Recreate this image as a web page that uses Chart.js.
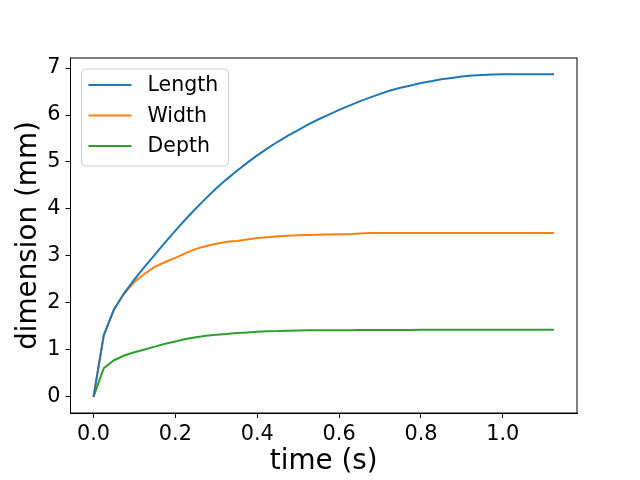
<!DOCTYPE html>
<html>
<head>
<meta charset="utf-8">
<script src="https://cdn.jsdelivr.net/npm/chart.js@4.4.0/dist/chart.umd.min.js"></script>
<style>
  html, body { margin: 0; padding: 0; background: #fff; }
  canvas { display: block; }
</style>
</head>
<body>
<canvas id="canvas" width="640" height="480"></canvas>
<script>
var times = [0, 0.025, 0.05, 0.075, 0.1, 0.125, 0.15, 0.175, 0.2, 0.225,
  0.25, 0.275, 0.3, 0.325, 0.35, 0.375, 0.4, 0.425, 0.45, 0.475,
  0.5, 0.525, 0.55, 0.575, 0.6, 0.625, 0.65, 0.675, 0.7, 0.725,
  0.75, 0.775, 0.8, 0.825, 0.85, 0.875, 0.9, 0.925, 0.95, 0.975,
  1.0, 1.025, 1.05, 1.075, 1.1, 1.125];

var lengthMm = [0, 1.31, 1.86, 2.21, 2.50, 2.77, 3.03, 3.29, 3.54, 3.78,
  4.01, 4.23, 4.44, 4.63, 4.81, 4.98, 5.14, 5.29, 5.43, 5.56,
  5.68, 5.80, 5.91, 6.01, 6.11, 6.20, 6.29, 6.37, 6.45, 6.52,
  6.58, 6.63, 6.68, 6.72, 6.76, 6.79, 6.82, 6.84, 6.85, 6.86,
  6.87, 6.87, 6.87, 6.87, 6.87, 6.87];

var widthMm = [0, 1.31, 1.86, 2.20, 2.45, 2.62, 2.77, 2.87, 2.96, 3.06,
  3.15, 3.21, 3.26, 3.30, 3.32, 3.35, 3.38, 3.40, 3.42, 3.43,
  3.44, 3.445, 3.45, 3.455, 3.46, 3.46, 3.48, 3.49, 3.49, 3.49,
  3.49, 3.49, 3.49, 3.49, 3.49, 3.49, 3.49, 3.49, 3.49, 3.49,
  3.49, 3.49, 3.49, 3.49, 3.49, 3.49];

var depthMm = [0, 0.61, 0.78, 0.88, 0.95, 1.01, 1.07, 1.13, 1.18, 1.23,
  1.27, 1.30, 1.32, 1.34, 1.36, 1.37, 1.385, 1.395, 1.40, 1.41,
  1.415, 1.42, 1.42, 1.42, 1.42, 1.42, 1.425, 1.425, 1.425, 1.425,
  1.425, 1.425, 1.43, 1.43, 1.43, 1.43, 1.43, 1.43, 1.43, 1.43,
  1.43, 1.43, 1.43, 1.43, 1.43, 1.43];

var seriesNames = ['Length', 'Width', 'Depth'];
var seriesColors = ['#1f77b4', '#ff7f0e', '#2ca02c'];
var xTicks = [0, 0.2, 0.4, 0.6, 0.8, 1.0];
var yTicks = [0, 1, 2, 3, 4, 5, 6, 7];

var FONT = "'DejaVu Sans', sans-serif";

function toPoints(arr) {
  return times.map(function(t, i) { return { x: t, y: arr[i] }; });
}

var allSeries = [lengthMm, widthMm, depthMm];
var datasets = allSeries.map(function(arr, i) {
  return {
    label: seriesNames[i],
    data: toPoints(arr),
    borderColor: seriesColors[i],
    backgroundColor: 'transparent',
    borderWidth: 2,
    pointRadius: 0,
    tension: 0
  };
});

// frame around the plot + legend box inside the axes
var framePlugin = {
  id: 'frame',
  afterDraw: function(chart) {
    var ctx = chart.ctx;
    var a = chart.chartArea;
    ctx.save();
    ctx.strokeStyle = '#000';
    ctx.lineWidth = 1;
    ctx.strokeRect(a.left, a.top, a.right - a.left, a.bottom - a.top);

    var bx = a.left + 11, by = a.top + 11, bw = 147, bh = 97;
    ctx.beginPath();
    ctx.roundRect(bx, by, bw, bh, 4);
    ctx.fillStyle = 'rgba(255,255,255,0.8)';
    ctx.fill();
    ctx.strokeStyle = '#cccccc';
    ctx.stroke();

    ctx.font = '20.5px ' + FONT;
    ctx.textBaseline = 'middle';
    ctx.textAlign = 'left';
    chart.data.datasets.forEach(function(ds, i) {
      var y = by + 16 + i * 30.5;
      ctx.beginPath();
      ctx.strokeStyle = ds.borderColor;
      ctx.lineWidth = 2;
      ctx.moveTo(bx + 7, y);
      ctx.lineTo(bx + 50, y);
      ctx.stroke();
      ctx.fillStyle = '#000';
      ctx.fillText(ds.label, bx + 66, y + 1);
    });
    ctx.restore();
  }
};

var ctx = document.getElementById('canvas').getContext('2d');
var myChart = new Chart(ctx, {
  type: 'line',
  data: { datasets: datasets },
  options: {
    responsive: false,
    animation: false,
    layout: { padding: { top: 58, right: 63, left: 0, bottom: 0 } },
    plugins: { legend: { display: false }, tooltip: { enabled: false } },
    scales: {
      x: {
        type: 'linear',
        min: -0.05625,
        max: 1.18125,
        afterBuildTicks: function(s) { s.ticks = xTicks.map(function(v) { return { value: v }; }); },
        afterFit: function(s) { s.height = 67; },
        ticks: {
          color: '#000',
          padding: 4,
          maxRotation: 0,
          font: { family: FONT, size: 20.8 },
          callback: function(v) { return Number(v).toFixed(1); }
        },
        grid: { drawOnChartArea: false, drawTicks: true, tickLength: 5, color: '#000' },
        border: { display: true, color: '#000', width: 1 },
        title: {
          display: true,
          text: 'time (s)',
          color: '#000',
          font: { family: FONT, size: 27.8 },
          padding: { top: 0, bottom: 2 }
        }
      },
      y: {
        type: 'linear',
        min: -0.3435,
        max: 7.2135,
        afterBuildTicks: function(s) { s.ticks = yTicks.map(function(v) { return { value: v }; }); },
        afterFit: function(s) { s.width = 70.5; },
        ticks: {
          color: '#000',
          padding: 5,
          font: { family: FONT, size: 20.8 }
        },
        grid: { drawOnChartArea: false, drawTicks: true, tickLength: 5, color: '#000' },
        border: { display: true, color: '#000', width: 1 },
        title: {
          display: true,
          text: 'dimension (mm)',
          color: '#000',
          font: { family: FONT, size: 27.8 },
          padding: { top: 12, bottom: 0 }
        }
      }
    }
  },
  plugins: [framePlugin]
});
</script>
</body>
</html>
